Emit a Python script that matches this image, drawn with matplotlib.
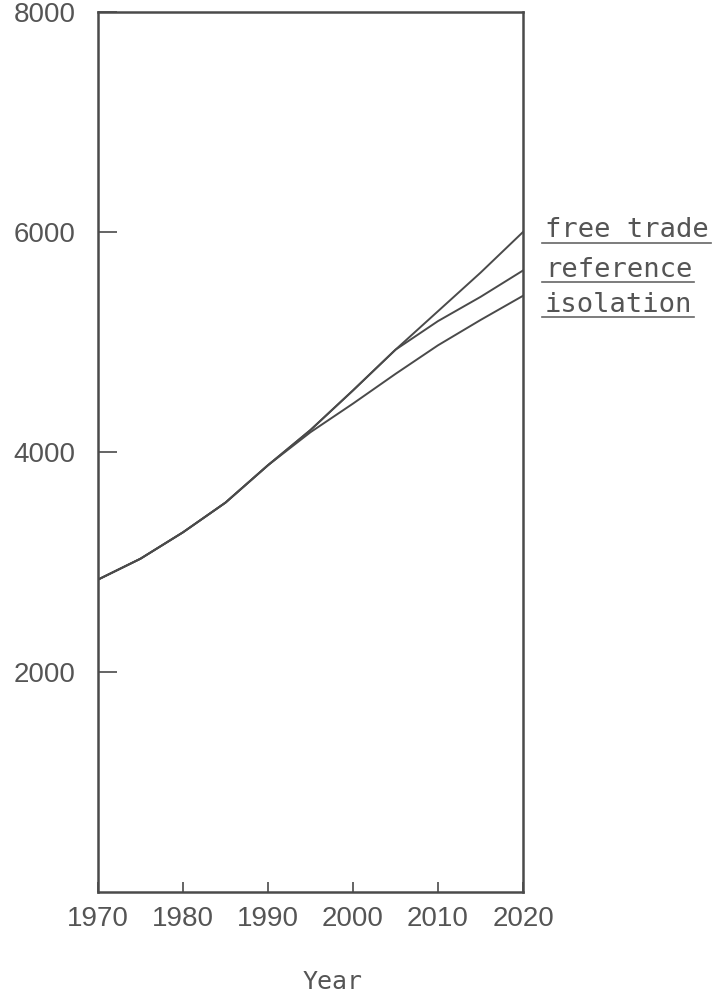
import matplotlib
matplotlib.use("Agg")
import matplotlib.pyplot as plt
from matplotlib.lines import Line2D

# projection, 5-year steps
years = [1970, 1975, 1980, 1985, 1990, 1995, 2000, 2005, 2010, 2015, 2020]
free_trade = [2840, 3030, 3270, 3540, 3880, 4200, 4560, 4930, 5280, 5630, 6000]
reference = [2840, 3030, 3270, 3540, 3880, 4200, 4560, 4930, 5190, 5410, 5650]
isolation = [2840, 3030, 3270, 3540, 3880, 4180, 4440, 4710, 4970, 5200, 5420]

series_names = ["free trade", "reference", "isolation"]
x_ticks = [1970, 1980, 1990, 2000, 2010, 2020]
y_ticks = [2000, 4000, 6000, 8000]

W, H = 714, 1002
ink = "#4a4a4a"

fig = plt.figure(figsize=(W / 100, H / 100), dpi=100)
ax = fig.add_axes([98 / W, 1 - 892 / H, (523 - 98) / W, (892 - 12) / H])

for vals in (free_trade, reference, isolation):
    ax.plot(years, vals, color=ink, lw=1.4)

ax.set_xlim(1970, 2020)
ax.set_ylim(0, 8000)
ax.set_xticks(x_ticks)
ax.set_yticks(y_ticks)
ax.tick_params(axis="x", direction="in", length=7, width=1.2, color=ink,
               labelsize=20, labelcolor="#555555", pad=10)
ax.tick_params(axis="y", direction="in", length=14, width=1.2, color=ink,
               labelsize=20, labelcolor="#555555", pad=16)
for lab in ax.get_xticklabels() + ax.get_yticklabels():
    lab.set_family("Liberation Sans")
for s in ax.spines.values():
    s.set_color(ink)
    s.set_linewidth(1.8)

# labels for the three curves, typed with underlines
label_base = [237, 277, 312]
line_y = [243, 282, 317]
for name, yb, yl in zip(series_names, label_base, line_y):
    t = fig.text(545 / W, 1 - yb / H, name, family="DejaVu Sans Mono",
                 fontsize=19.5, color="#555555", va="baseline", ha="left")
    fig.canvas.draw()
    bb = t.get_window_extent()
    fig.add_artist(Line2D([542 / W, (bb.x1 + 2) / W], [1 - yl / H, 1 - yl / H],
                          transform=fig.transFigure, color="#666666", lw=1.2))

fig.text(333 / W, 1 - 982 / H, "Year", family="DejaVu Sans Mono",
         fontsize=18, color="#555555", ha="center", va="center")

fig.savefig("out.png", dpi=100)
